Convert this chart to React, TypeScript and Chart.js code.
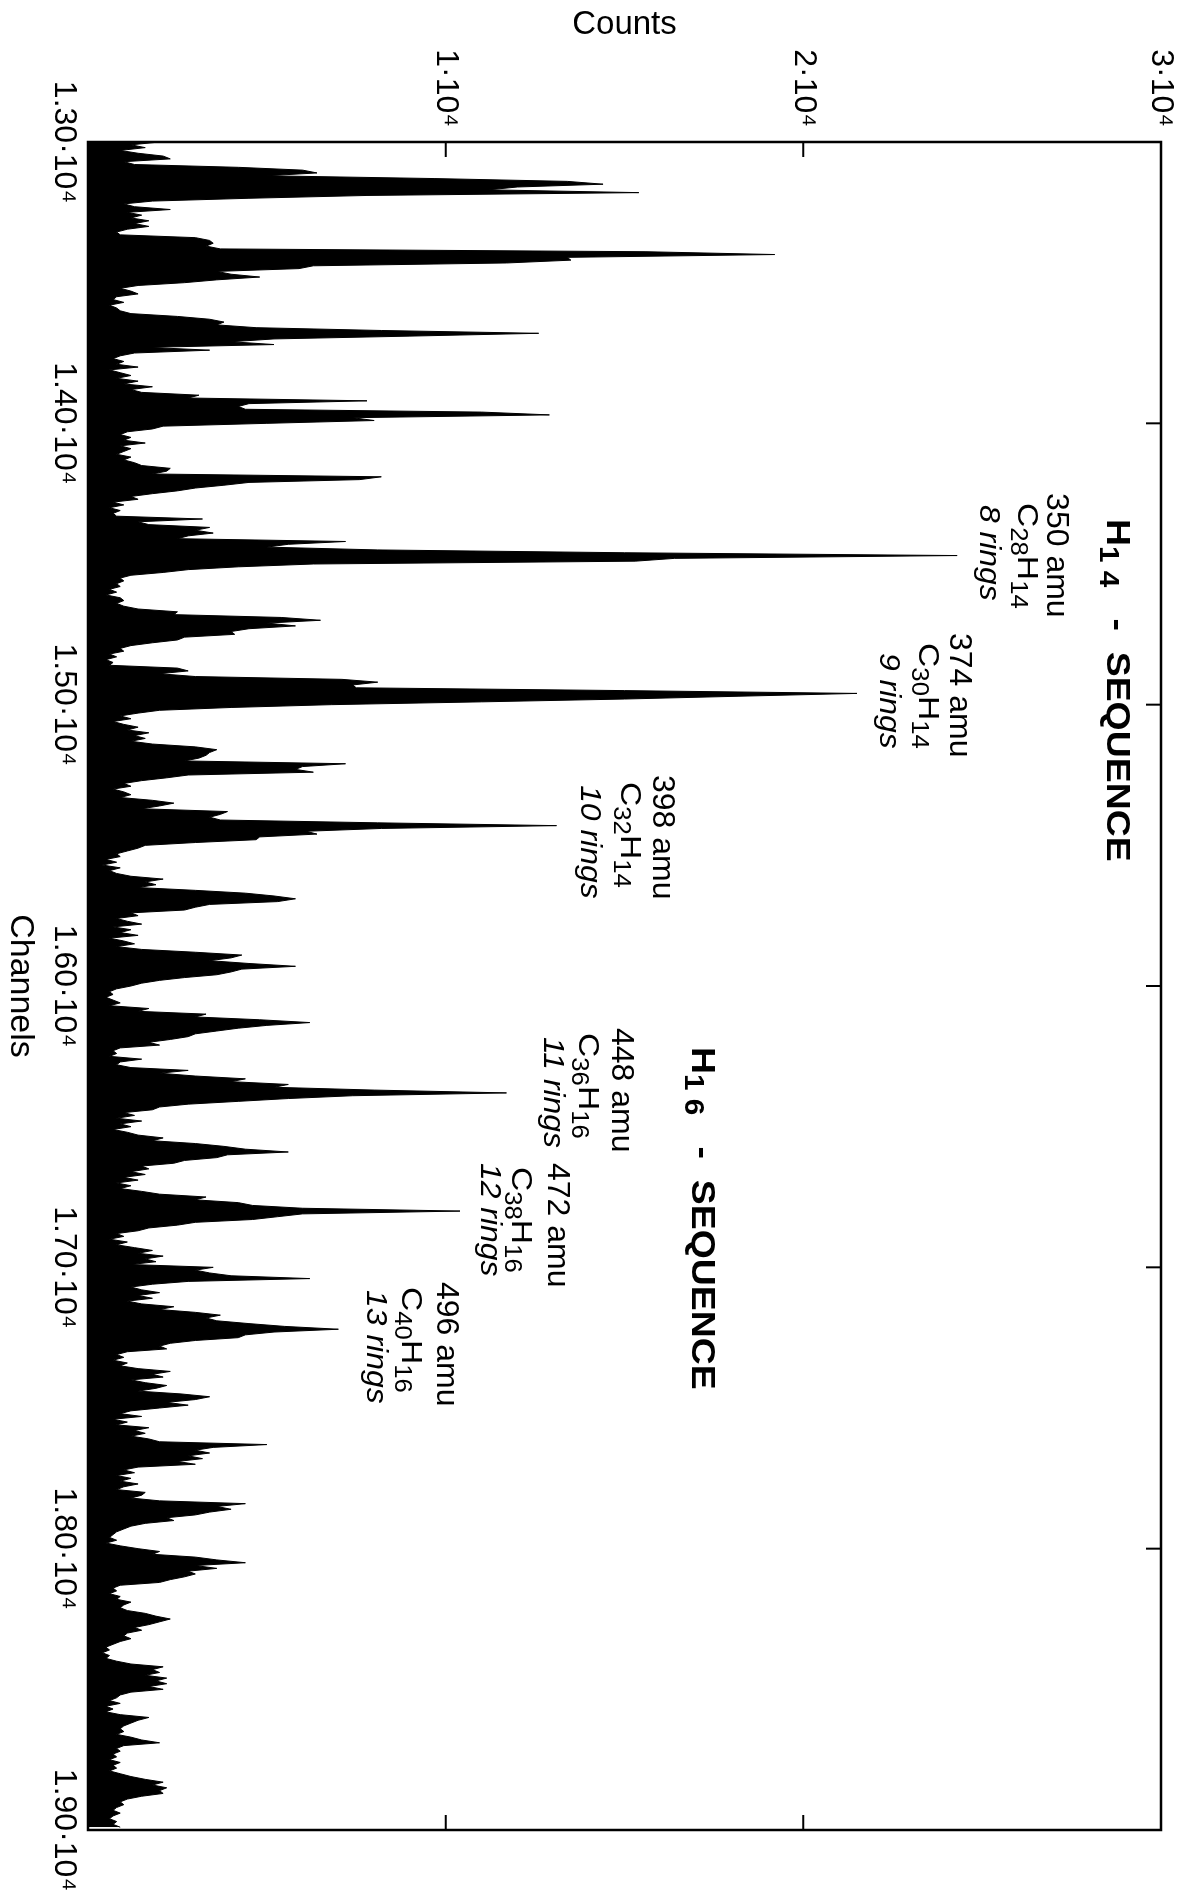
import React, { useEffect, useRef } from 'react';
import { Chart, registerables } from 'chart.js';

Chart.register(...registerables);

const FONT = "'Liberation Sans', Arial, Helvetica, sans-serif";

// Spectrum: one value every 10 channels, counts in units of 100
const CHANNEL_START = 13000;
const CHANNEL_STEP = 10;

const counts13k = [
  20, 12, 16, 9, 14, 21, 23, 10, 13, 42,
  60, 64, 50, 97, 134, 144, 120, 112, 154, 78,
  45, 18, 10, 13, 23, 11, 15, 12, 17, 13,
  17, 11, 8, 9, 30, 34, 35, 33, 37, 156,
  192, 134, 135, 117, 63, 59, 36, 40, 48, 36,
  27, 14, 9, 12, 14, 8, 7, 10, 6, 8,
  9, 12, 25, 34, 38, 36, 47, 82, 126, 90,
  52, 40, 52, 17, 34, 13, 9, 7, 10, 8,
  14, 6, 9, 12, 8, 14, 10, 18, 12, 15,
  31, 28, 78, 45, 42, 44, 110, 129, 74, 80,
];
const counts14k = [
  50, 21, 18, 11, 9, 12, 10, 16, 9, 12,
  10, 8, 12, 10, 13, 15, 23, 22, 18, 82,
  76, 45, 38, 30, 25, 18, 12, 14, 7, 10,
  6, 9, 7, 8, 32, 14, 17, 34, 30, 35,
  28, 25, 72, 56, 50, 81, 150, 243, 164, 153,
  63, 42, 28, 21, 12, 9, 10, 8, 9, 6,
  8, 5, 9, 10, 8, 10, 14, 25, 24, 54,
  65, 50, 58, 45, 40, 41, 27, 25, 18, 12,
  9, 10, 6, 8, 5, 7, 6, 25, 28, 20,
  30, 71, 81, 74, 75, 150, 215, 182, 150, 110,
];
const counts15k = [
  68, 40, 20, 14, 9, 12, 7, 10, 14, 11,
  17, 13, 16, 12, 18, 30, 36, 34, 33, 31,
  27, 72, 60, 58, 63, 28, 22, 15, 10, 12,
  7, 10, 12, 9, 18, 24, 20, 15, 39, 37,
  34, 37, 81, 131, 82, 61, 64, 48, 47, 30,
  16, 14, 11, 8, 9, 5, 8, 4, 9, 6,
  8, 12, 21, 16, 19, 14, 30, 44, 52, 58,
  53, 34, 30, 27, 12, 14, 8, 11, 15, 7,
  12, 9, 14, 6, 10, 13, 8, 15, 30, 43,
  40, 34, 45, 58, 43, 40, 36, 27, 20, 15,
];
const counts16k = [
  12, 8, 6, 7, 5, 7, 9, 6, 17, 14,
  33, 30, 48, 62, 50, 42, 36, 30, 28, 23,
  17, 20, 9, 7, 8, 6, 15, 9, 8, 12,
  28, 20, 30, 44, 40, 56, 52, 80, 117, 74,
  56, 42, 28, 20, 18, 10, 13, 8, 15, 9,
  12, 7, 11, 14, 21, 18, 30, 38, 44, 56,
  39, 36, 27, 24, 15, 17, 12, 16, 10, 14,
  8, 12, 9, 15, 20, 33, 30, 42, 46, 60,
  104, 60, 53, 46, 30, 25, 17, 14, 8, 10,
  6, 11, 8, 13, 18, 14, 21, 16, 19, 12,
];
const counts17k = [
  35, 30, 34, 40, 62, 28, 18, 12, 15, 20,
  14, 18, 11, 15, 24, 20, 30, 37, 33, 36,
  45, 55, 70, 52, 44, 42, 30, 23, 20, 22,
  11, 8, 10, 7, 11, 9, 14, 23, 18, 21,
  12, 16, 22, 19, 14, 26, 34, 30, 22, 28,
  20, 12, 9, 15, 7, 11, 8, 17, 13, 16,
  12, 17, 20, 50, 35, 30, 34, 28, 32, 25,
  30, 14, 10, 13, 8, 12, 9, 14, 10, 8,
  16, 15, 12, 20, 44, 36, 40, 34, 30, 22,
  24, 16, 12, 10, 8, 7, 6, 8, 5, 9,
];
const counts18k = [
  14, 20, 18, 30, 36, 44, 30, 36, 28, 30,
  27, 23, 20, 9, 7, 8, 6, 9, 8, 12,
  10, 9, 11, 16, 19, 23, 20, 17, 13, 15,
  11, 10, 12, 9, 7, 5, 6, 4, 6, 5,
  8, 12, 21, 18, 20, 16, 22, 19, 22, 17,
  21, 12, 9, 8, 6, 9, 5, 7, 5, 9,
  17, 14, 12, 10, 9, 10, 8, 12, 15, 20,
  10, 8, 9, 7, 8, 6, 9, 7, 8, 6,
  9, 12, 16, 21, 18, 22, 20, 21, 15, 11,
  9, 10, 8, 7, 9, 7, 6, 8, 7, 9,
];

const channelTickValues = [13000, 14000, 15000, 16000, 17000, 18000, 19000];
const channelTickLabels = ['1.30·10⁴', '1.40·10⁴', '1.50·10⁴', '1.60·10⁴', '1.70·10⁴', '1.80·10⁴', '1.90·10⁴'];
const countTickValues = [0, 100, 200, 300];
const countTickLabels = ['', '1·10⁴', '2·10⁴', '3·10⁴'];

// Annotations: text, anchor channel, anchor count level (×100), style
const annotationTexts = [
  'H_{1 4}   -  SEQUENCE', '350 amu', 'C_{28}H_{14}', '8 rings',
  '374 amu', 'C_{30}H_{14}', '9 rings',
  '398 amu', 'C_{32}H_{14}', '10 rings',
  'H_{1 6}   -  SEQUENCE', '448 amu', 'C_{36}H_{16}', '11 rings',
  '472 amu', 'C_{38}H_{16}', '12 rings',
  '496 amu', 'C_{40}H_{16}', '13 rings',
];
const annotationChannels = [
  14340, 14248, 14283, 14290,
  14745, 14781, 14816,
  15250, 15275, 15286,
  16217, 16149, 16167, 16181,
  16629, 16643, 16629,
  17052, 17070, 17081,
];
const annotationLevels = [
  285, 268, 260, 249.3,
  241, 232.2, 221.3,
  158, 149, 137.7,
  168.9, 146.5, 137.2, 127.5,
  128.6, 118.5, 110,
  97.6, 87.7, 78.1,
];
const annotationStyles = [
  'bold', 'normal', 'formula', 'italic',
  'normal', 'formula', 'italic',
  'normal', 'formula', 'italic',
  'bold', 'normal', 'formula', 'italic',
  'normal', 'formula', 'italic',
  'normal', 'formula', 'italic',
];

const TEXT_STYLES: Record<string, { css: string; size: number; hScale: number }> = {
  bold: { css: 'bold', size: 34, hScale: 1.1 },
  normal: { css: 'normal', size: 32, hScale: 1.0 },
  formula: { css: 'normal', size: 30, hScale: 1.12 },
  italic: { css: 'italic', size: 29, hScale: 1.1 },
};

function drawRich(ctx: CanvasRenderingContext2D, text: string, x: number, y: number, styleKey: string) {
  const st = TEXT_STYLES[styleKey];
  const size = st.size;
  const parts = text.split(/(_\{[^}]*\})/).filter((p) => p.length > 0);
  ctx.save();
  ctx.translate(x, y);
  ctx.scale(st.hScale, 1);
  ctx.fillStyle = '#000';
  ctx.textBaseline = 'alphabetic';
  ctx.textAlign = 'left';
  let cx = 0;
  for (const p of parts) {
    const sub = p.startsWith('_{');
    const t = sub ? p.slice(2, -1) : p;
    const fs = sub ? Math.round(size * 0.78) : size;
    ctx.font = `${st.css} ${fs}px ${FONT}`;
    ctx.fillText(t, cx, sub ? size * 0.22 : 0);
    cx += ctx.measureText(t).width;
  }
  ctx.restore();
}

const framePlugin = {
  id: 'frameAndNotes',
  afterDatasetsDraw(chart: any) {
    const { ctx, chartArea: a, scales } = chart;
    const xs = scales.x;
    const ys = scales.y;
    ctx.save();
    ctx.strokeStyle = '#000';
    ctx.lineWidth = 2.5;
    ctx.strokeRect(a.left, a.top, a.right - a.left, a.bottom - a.top);
    ctx.lineWidth = 2;
    ctx.beginPath();
    for (const v of channelTickValues.slice(1, -1)) {
      const px = xs.getPixelForValue(v);
      ctx.moveTo(px, a.top);
      ctx.lineTo(px, a.top + 15);
      ctx.moveTo(px, a.bottom);
      ctx.lineTo(px, a.bottom - 15);
    }
    for (const v of countTickValues.slice(1, -1)) {
      const py = ys.getPixelForValue(v);
      ctx.moveTo(a.left, py);
      ctx.lineTo(a.left + 15, py);
      ctx.moveTo(a.right, py);
      ctx.lineTo(a.right - 15, py);
    }
    ctx.stroke();
    annotationTexts.forEach((t, i) => {
      drawRich(ctx, t, xs.getPixelForValue(annotationChannels[i]), ys.getPixelForValue(annotationLevels[i]), annotationStyles[i]);
    });
    ctx.restore();
  },
};

export default function App() {
  const ref = useRef<HTMLCanvasElement | null>(null);
  useEffect(() => {
    if (!ref.current) return;
    const all = [...counts13k, ...counts14k, ...counts15k, ...counts16k, ...counts17k, ...counts18k];
    const points = all.map((c, i) => ({ x: CHANNEL_START + i * CHANNEL_STEP, y: c }));
    const chart = new Chart(ref.current, {
      type: 'line',
      data: {
        datasets: [
          {
            data: points,
            borderColor: '#000',
            backgroundColor: '#000',
            borderWidth: 1,
            pointRadius: 0,
            fill: 'origin',
            tension: 0,
          },
        ],
      },
      options: {
        animation: false,
        responsive: false,
        parsing: false,
        layout: { padding: { top: 37, right: 62, bottom: 0, left: 0 } },
        plugins: { legend: { display: false }, tooltip: { enabled: false } },
        scales: {
          x: {
            type: 'linear',
            position: 'bottom',
            min: 13000,
            max: 19000,
            grid: { display: false, drawTicks: false },
            border: { display: false },
            ticks: {
              stepSize: 1000,
              autoSkip: false,
              maxRotation: 0,
              minRotation: 0,
              padding: 5,
              color: '#000',
              font: { size: 32, family: FONT },
              callback: (v: any) => {
                const k = channelTickValues.indexOf(Number(v));
                return k >= 0 ? channelTickLabels[k] : '';
              },
            },
            title: { display: true, text: 'Channels', color: '#000', font: { size: 34, family: FONT }, padding: { top: 0, bottom: 0 } },
            afterFit: (s: any) => {
              s.height = 88;
              s.paddingLeft = 0;
              s.paddingRight = 0;
            },
          },
          y: {
            type: 'linear',
            position: 'left',
            min: 0,
            max: 300,
            grid: { display: false, drawTicks: false },
            border: { display: false },
            ticks: {
              stepSize: 100,
              padding: 15,
              color: '#000',
              font: { size: 32, family: FONT },
              callback: (v: any) => {
                const k = countTickValues.indexOf(Number(v));
                return k >= 0 ? countTickLabels[k] : '';
              },
            },
            title: { display: true, text: 'Counts', color: '#000', font: { size: 33, family: FONT }, padding: { top: 5, bottom: 0 } },
            afterFit: (s: any) => {
              s.width = 142;
              s.paddingTop = 0;
              s.paddingBottom = 0;
            },
          },
        },
      },
      plugins: [framePlugin],
    } as any);
    return () => chart.destroy();
  }, []);

  return (
    <div style={{ position: 'absolute', left: 0, top: 0, width: 1198, height: 1892, overflow: 'hidden', background: '#fff' }}>
      <div
        style={{
          position: 'absolute',
          left: 0,
          top: 0,
          width: 1892,
          height: 1198,
          transformOrigin: '0 0',
          transform: 'translate(1198px, 0px) rotate(90deg)',
        }}
      >
        <canvas ref={ref} width={1892} height={1198} style={{ display: 'block', width: 1892, height: 1198 }} />
      </div>
    </div>
  );
}
